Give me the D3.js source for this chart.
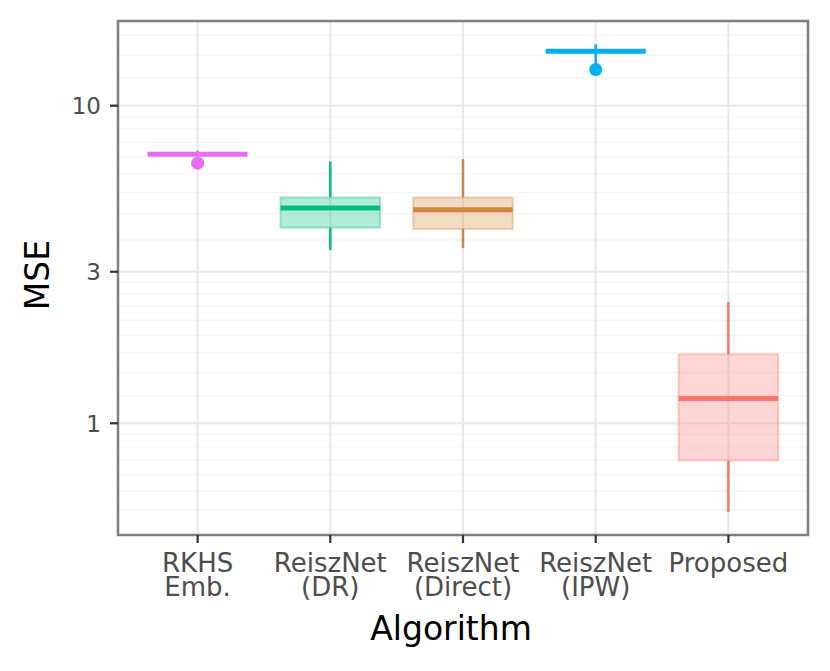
<!DOCTYPE html>
<html>
<head>
<meta charset="utf-8">
<script src="https://cdn.jsdelivr.net/npm/d3@7/dist/d3.min.js"></script>
<style>
  body { margin: 0; background: #fff; }
  text { font-family: "DejaVu Sans", sans-serif; }
</style>
</head>
<body>
<div class="canvas-container"></div>
<script>

// algorithm names (each label split over lines)
var algorithms = ["RKHS Emb.", "ReiszNet (DR)", "ReiszNet (Direct)", "ReiszNet (IPW)", "Proposed"];
var labelLines = [["RKHS", "Emb."], ["ReiszNet", "(DR)"], ["ReiszNet", "(Direct)"], ["ReiszNet", "(IPW)"], ["Proposed"]];
var colors = ["#E76BF3", "#00BF7D", "#D3843D", "#00B0F6", "#F8766D"];

// box-plot summaries of MSE
var lowerWhisker = [7.00, 3.51, 3.56, 13.5, 0.525];
var q1          = [7.00, 4.13, 4.09, 14.75, 0.764];
var median      = [7.03, 4.76, 4.70, 14.84, 1.197];
var q3          = [7.08, 5.14, 5.14, 14.95, 1.65];
var upperWhisker= [7.22, 6.67, 6.79, 15.6, 2.41];
var outliers    = [[6.59], [], [], [12.99], []];

var yMajor = [0.3, 1, 3, 10, 30];
var yTickLabels = ["0.3", "1", "3", "10", "30"];

var width = 830, height = 671;
var margin = {top: 21, right: 22, bottom: 136, left: 118};

var svg = d3.select("div.canvas-container")
    .append("svg")
    .attr("width", width)
    .attr("height", height);

var x = d3.scalePoint()
    .domain(algorithms)
    .range([margin.left, width - margin.right])
    .padding(0.6);

var y = d3.scaleLog()
    .domain([0.4448, 18.48])
    .range([height - margin.bottom, margin.top]);

var x0 = margin.left, x1 = width - margin.right;
var y0 = height - margin.bottom, y1 = margin.top;

// minor breaks: 8 evenly spaced values between each pair of major breaks
var yMinor = [];
for (var i = 0; i < yMajor.length - 1; i++) {
    var a = yMajor[i], b = yMajor[i + 1];
    for (var k = 1; k <= 8; k++) yMinor.push(a + (b - a) * k / 9);
}
var inRange = function (v) { return v >= y.domain()[0] && v <= y.domain()[1]; };

var grid = svg.append("g");
grid.selectAll(".minor")
    .data(yMinor.filter(inRange))
    .enter().append("line")
    .attr("x1", x0).attr("x2", x1)
    .attr("y1", function (d) { return y(d); })
    .attr("y2", function (d) { return y(d); })
    .attr("stroke", "#f5f5f5")
    .attr("stroke-width", 1.4);

grid.selectAll(".major")
    .data(yMajor.filter(inRange))
    .enter().append("line")
    .attr("x1", x0).attr("x2", x1)
    .attr("y1", function (d) { return y(d); })
    .attr("y2", function (d) { return y(d); })
    .attr("stroke", "#e8e8e8")
    .attr("stroke-width", 2);

grid.selectAll(".vmajor")
    .data(algorithms)
    .enter().append("line")
    .attr("x1", function (d) { return x(d); })
    .attr("x2", function (d) { return x(d); })
    .attr("y1", y0).attr("y2", y1)
    .attr("stroke", "#e8e8e8")
    .attr("stroke-width", 2);

// boxes
var half = x.step() * 0.375;
var boxes = svg.append("g")
    .selectAll("g")
    .data(algorithms)
    .enter().append("g");

boxes.append("line")
    .attr("x1", function (d) { return x(d); })
    .attr("x2", function (d) { return x(d); })
    .attr("y1", function (d, i) { return y(upperWhisker[i]); })
    .attr("y2", function (d, i) { return y(q3[i]); })
    .attr("stroke", function (d, i) { return colors[i]; })
    .attr("stroke-width", 2.5);

boxes.append("line")
    .attr("x1", function (d) { return x(d); })
    .attr("x2", function (d) { return x(d); })
    .attr("y1", function (d, i) { return y(q1[i]); })
    .attr("y2", function (d, i) { return y(lowerWhisker[i]); })
    .attr("stroke", function (d, i) { return colors[i]; })
    .attr("stroke-width", 2.5);

boxes.append("rect")
    .attr("x", function (d) { return x(d) - half; })
    .attr("width", half * 2)
    .attr("y", function (d, i) { return y(q3[i]); })
    .attr("height", function (d, i) { return y(q1[i]) - y(q3[i]); })
    .attr("fill", function (d, i) { return colors[i]; })
    .attr("fill-opacity", 0.3)
    .attr("stroke", function (d, i) { return colors[i]; })
    .attr("stroke-opacity", 0.35)
    .attr("stroke-width", 2);

boxes.append("line")
    .attr("x1", function (d) { return x(d) - half; })
    .attr("x2", function (d) { return x(d) + half; })
    .attr("y1", function (d, i) { return y(median[i]); })
    .attr("y2", function (d, i) { return y(median[i]); })
    .attr("stroke", function (d, i) { return colors[i]; })
    .attr("stroke-width", 5);

boxes.each(function (d, i) {
    d3.select(this).selectAll("circle")
        .data(outliers[i])
        .enter().append("circle")
        .attr("cx", x(d))
        .attr("cy", function (v) { return y(v); })
        .attr("r", 6.5)
        .attr("fill", colors[i]);
});

// panel border
svg.append("rect")
    .attr("x", x0).attr("y", y1)
    .attr("width", x1 - x0).attr("height", y0 - y1)
    .attr("fill", "none")
    .attr("stroke", "#7f7f7f")
    .attr("stroke-width", 2.5);

// y axis ticks and labels
var yt = svg.append("g")
    .selectAll("g")
    .data(yMajor.filter(inRange))
    .enter().append("g");
yt.append("line")
    .attr("x1", x0 - 8).attr("x2", x0)
    .attr("y1", function (d) { return y(d); })
    .attr("y2", function (d) { return y(d); })
    .attr("stroke", "#333")
    .attr("stroke-width", 2.2);
yt.append("text")
    .attr("x", x0 - 17)
    .attr("y", function (d) { return y(d); })
    .attr("dy", "0.36em")
    .attr("text-anchor", "end")
    .attr("font-size", 23)
    .attr("fill", "#4d4d4d")
    .text(function (d) { return yTickLabels[yMajor.indexOf(d)]; });

// x axis ticks and labels
var xt = svg.append("g")
    .selectAll("g")
    .data(algorithms)
    .enter().append("g");
xt.append("line")
    .attr("x1", function (d) { return x(d); })
    .attr("x2", function (d) { return x(d); })
    .attr("y1", y0).attr("y2", y0 + 8)
    .attr("stroke", "#333")
    .attr("stroke-width", 2.2);
xt.append("text")
    .attr("text-anchor", "middle")
    .attr("font-size", 26)
    .attr("fill", "#4d4d4d")
    .each(function (d, i) {
        var t = d3.select(this);
        labelLines[i].forEach(function (line, j) {
            t.append("tspan")
                .attr("x", x(d))
                .attr("y", 572 + j * 24)
                .text(line);
        });
    });

// titles
svg.append("text")
    .attr("x", 451)
    .attr("y", 640)
    .attr("text-anchor", "middle")
    .attr("font-size", 33)
    .attr("fill", "#000")
    .text("Algorithm");

svg.append("text")
    .attr("transform", "translate(49," + 275 + ") rotate(-90)")
    .attr("text-anchor", "middle")
    .attr("font-size", 33)
    .attr("fill", "#000")
    .text("MSE");

</script>
</body>
</html>
